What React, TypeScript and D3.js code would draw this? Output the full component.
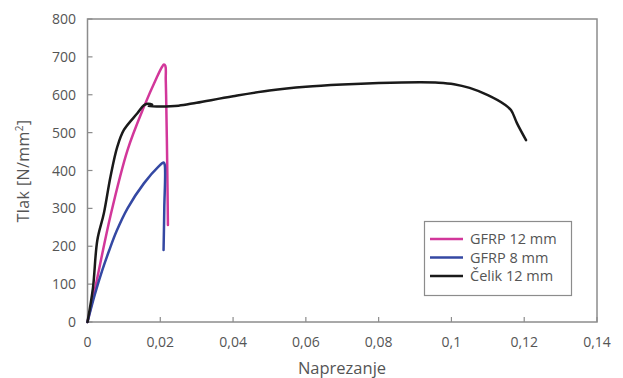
import React from "react";
import * as d3 from "d3";

const xTicks = [0, 0.02, 0.04, 0.06, 0.08, 0.1, 0.12, 0.14];
const yTicks = [0, 100, 200, 300, 400, 500, 600, 700, 800];

const gfrp12: [number, number][] = [
  [0, 0], [0.002, 85], [0.0063, 280], [0.011, 454], [0.0155, 568], [0.019, 645],
  [0.0205, 674], [0.021, 680], [0.0214, 676], [0.0215, 640], [0.0216, 600],
  [0.0219, 420], [0.0221, 256],
];
const gfrp8: [number, number][] = [
  [0, 0], [0.002, 72], [0.004, 135], [0.006, 190], [0.008, 240], [0.011, 300],
  [0.0155, 366], [0.0195, 410], [0.0209, 421], [0.0212, 416], [0.0211, 300], [0.0209, 190],
];
const celik: [number, number][] = [
  [0, 0], [0.0015, 90], [0.0027, 216], [0.0045, 287], [0.0063, 383], [0.0082, 463],
  [0.01, 507], [0.0137, 551], [0.0155, 572], [0.0165, 576], [0.0178, 574],
  [0.0168, 570], [0.02, 569], [0.025, 571], [0.03, 579], [0.04, 596], [0.05, 611],
  [0.06, 621], [0.07, 627], [0.08, 631], [0.0916, 633], [0.0965, 632], [0.1007, 628],
  [0.105, 618], [0.11, 599], [0.1145, 575], [0.1164, 559], [0.118, 525], [0.1205, 480],
];

const series = [
  { name: "GFRP 12 mm", data: gfrp12, color: "#d2379a" },
  { name: "GFRP 8 mm", data: gfrp8, color: "#3448a3" },
  { name: "Čelik 12 mm", data: celik, color: "#1a1a1a" },
];

export default function App() {
  const W = 623, H = 378;
  const x = d3.scaleLinear().domain([0, 0.14]).range([87.5, 597]);
  const y = d3.scaleLinear().domain([0, 800]).range([322, 19]);
  const line = d3.line<[number, number]>().x((d) => x(d[0])).y((d) => y(d[1])).curve(d3.curveCatmullRom.alpha(0.5));
  const font = "'Open Sans', sans-serif";
  const txt = "#555";
  const axisC = "#8c8c8c";
  const fmt = (v: number) => String(v).replace(".", ",");
  return (
    <svg width={W} height={H} style={{ position: "absolute", left: 0, top: 0, background: "#fff" }}>
      <rect x={x(0)} y={y(800)} width={x(0.14) - x(0)} height={y(0) - y(800)} fill="none" stroke={axisC} strokeWidth={1.5} />
      {xTicks.map((t) => (
        <g key={"x" + t}>
          <line x1={x(t)} x2={x(t)} y1={y(0)} y2={y(0) - 5} stroke={axisC} strokeWidth={1.2} />
          <text x={x(t)} y={347} textAnchor="middle" fontFamily={font} fontSize={14} fill={txt}>{fmt(t)}</text>
        </g>
      ))}
      {yTicks.map((t) => (
        <g key={"y" + t}>
          <line x1={x(0)} x2={x(0) + 5} y1={y(t)} y2={y(t)} stroke={axisC} strokeWidth={1.2} />
          <text x={76} y={y(t) + 5} textAnchor="end" fontFamily={font} fontSize={14} fill={txt}>{t}</text>
        </g>
      ))}
      <text x={342} y={374} textAnchor="middle" fontFamily={font} fontSize={16.5} fill={txt}>Naprezanje</text>
      <text transform={`translate(29,${171}) rotate(-90)`} textAnchor="middle" fontFamily={font} fontSize={16} letterSpacing={0.4} fill={txt}>
        Tlak [N/mm<tspan dy={-6} fontSize={10}>2</tspan><tspan dy={6}>]</tspan>
      </text>
      {series.map((s) => (
        <path key={s.name} d={line(s.data) || ""} fill="none" stroke={s.color} strokeWidth={2.5} strokeLinejoin="round" strokeLinecap="round" />
      ))}
      <rect x={424.5} y={221.5} width={147} height={74} fill="#fff" stroke={axisC} strokeWidth={1.2} />
      {series.map((s, i) => (
        <g key={"l" + s.name}>
          <line x1={430} x2={463} y1={239 + i * 18.5} y2={239 + i * 18.5} stroke={s.color} strokeWidth={2.5} />
          <text x={470} y={239 + i * 18.5 + 5} fontFamily={font} fontSize={14.5} fill={txt}>{s.name}</text>
        </g>
      ))}
    </svg>
  );
}
